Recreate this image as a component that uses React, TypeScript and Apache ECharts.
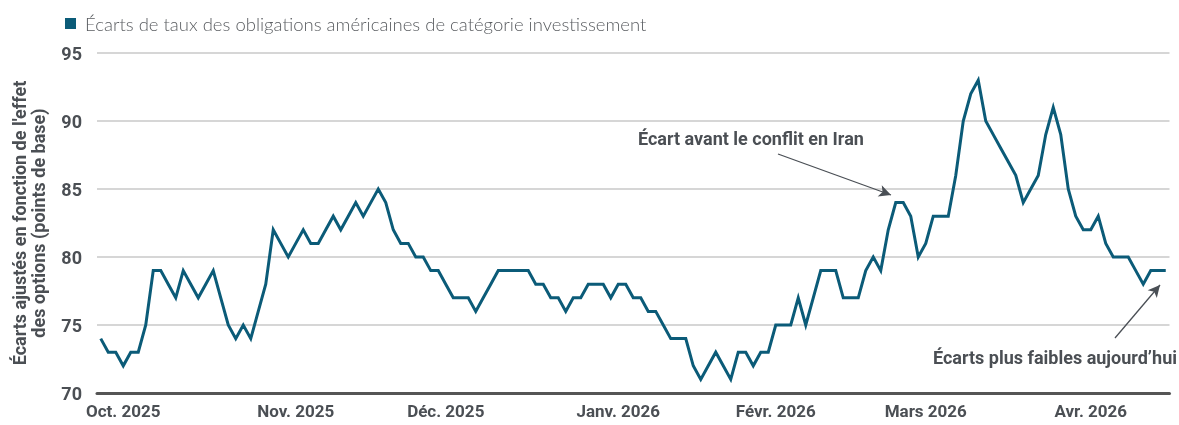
import React, { useEffect, useRef } from "react";
import * as echarts from "echarts";

const seriesName = "Écarts de taux des obligations américaines de catégorie investissement";

// Daily option-adjusted spreads (bp), Oct. 2025 – Apr. 2026
const spreadValues: number[] = [
  74, 73, 73, 72, 73, 73, 75, 79, 79, 78, 77, 79, 78, 77, 78, 79, 77, 75, 74, 75,
  74, 76, 78, 82, 81, 80, 81, 82, 81, 81, 82, 83, 82, 83, 84, 83, 84, 85, 84, 82,
  81, 81, 80, 80, 79, 79, 78, 77, 77, 77, 76, 77, 78, 79, 79, 79, 79, 79, 78, 78,
  77, 77, 76, 77, 77, 78, 78, 78, 77, 78, 78, 77, 77, 76, 76, 75, 74, 74, 74, 72,
  71, 72, 73, 72, 71, 73, 73, 72, 73, 73, 75, 75, 75, 77, 75, 77, 79, 79, 79, 77,
  77, 77, 79, 80, 79, 82, 84, 84, 83, 80, 81, 83, 83, 83, 86, 90, 92, 93, 90, 89,
  88, 87, 86, 84, 85, 86, 89, 91, 89, 85, 83, 82, 82, 83, 81, 80, 80, 80, 79, 78,
  79, 79, 79,
];

const monthLabels: string[] = [
  "Oct. 2025", "Nov. 2025", "Déc. 2025", "Janv. 2026", "Févr. 2026", "Mars 2026", "Avr. 2026",
];
const monthLabelIndex: number[] = [3, 26, 46, 69, 90, 110, 132];

const yTicks = { min: 70, max: 95, interval: 5 };

const yAxisTitle = "Écarts ajustés en fonction de l'effet\ndes options (points de base)";
const annotationIran = "Écart avant le conflit en Iran";
const annotationToday = "Écarts plus faibles aujourd\u2019hui";

const LINE = "#0b5b78";
const TEXT = "#4b4f54";
const FONT = "Roboto";

export default function App() {
  const ref = useRef<HTMLDivElement>(null);

  useEffect(() => {
    if (!ref.current) return;
    const chart = echarts.init(ref.current, undefined, { renderer: "svg" });
    const categories = spreadValues.map((_, i) => String(i));

    chart.setOption({
      animation: false,
      textStyle: { fontFamily: FONT },
      legend: {
        left: 60,
        top: 9,
        icon: "rect",
        itemWidth: 11,
        itemHeight: 11,
        itemGap: 10,
        textStyle: { fontFamily: "Lato", fontSize: 18.5, fontWeight: 300, color: "#5a5d61", padding: [0, 0, 0, 4] },
        data: [{ name: seriesName }],
      },
      grid: { left: 97, right: 9.5, top: 53, bottom: 32, containLabel: false },
      xAxis: {
        type: "category",
        data: categories,
        boundaryGap: true,
        axisLine: { show: true, lineStyle: { color: "#555555", width: 3 } },
        axisTick: { show: false },
        splitLine: { show: false },
        axisLabel: {
          interval: (index: number) => monthLabelIndex.includes(index),
          formatter: (_v: string, index: number) => {
            const k = monthLabelIndex.indexOf(index);
            return k >= 0 ? monthLabels[k] : "";
          },
          color: TEXT,
          fontFamily: FONT,
          fontWeight: "bold",
          fontSize: 17,
          margin: 9,
        },
      },
      yAxis: {
        type: "value",
        min: yTicks.min,
        max: yTicks.max,
        interval: yTicks.interval,
        name: yAxisTitle,
        nameLocation: "middle",
        nameRotate: 90,
        nameGap: 49,
        nameTextStyle: {
          color: TEXT,
          fontFamily: FONT,
          fontWeight: "bold",
          fontSize: 18,
          lineHeight: 19,
          align: "center",
        },
        axisLine: { show: false },
        axisTick: { show: false },
        axisLabel: {
          color: TEXT,
          fontFamily: FONT,
          fontWeight: "bold",
          fontSize: 18,
          margin: 15,
        },
        splitLine: { show: true, lineStyle: { color: "#c9c9c9", width: 1.5 } },
      },
      series: [
        {
          name: seriesName,
          type: "line",
          data: spreadValues,
          symbol: "none",
          lineStyle: { color: LINE, width: 3, join: "miter" },
          itemStyle: { color: LINE },
          markLine: {
            silent: true,
            symbol: ["none", "arrow"],
            symbolSize: [9, 12],
            label: { show: false },
            lineStyle: { color: "#4a4f55", width: 1.3, type: "solid" },
            data: [
              [{ x: 778, y: 154 }, { x: 891, y: 195 }],
              [{ x: 1115, y: 338 }, { x: 1160, y: 285 }],
            ],
          },
        },
      ],
      graphic: [
        {
          type: "text",
          x: 638,
          y: 138,
          style: {
            text: annotationIran,
            fill: TEXT,
            fontFamily: FONT,
            fontWeight: "bold",
            fontSize: 18,
            align: "left",
            verticalAlign: "middle",
          },
        },
        {
          type: "text",
          x: 1177,
          y: 357,
          style: {
            text: annotationToday,
            fill: TEXT,
            fontFamily: FONT,
            fontWeight: "bold",
            fontSize: 18,
            align: "right",
            verticalAlign: "middle",
          },
        },
      ],
    });

    return () => chart.dispose();
  }, []);

  return (
    <div
      ref={ref}
      style={{ position: "fixed", left: 0, top: 0, width: 1179, height: 425 }}
    />
  );
}
